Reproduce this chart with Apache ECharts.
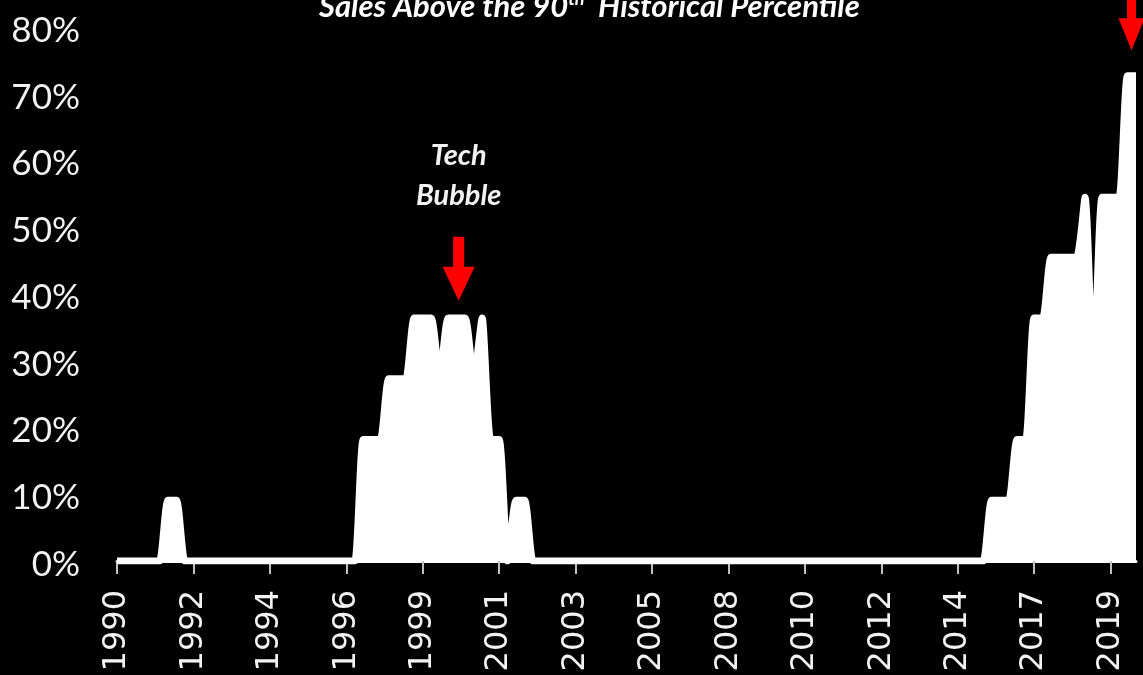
<!DOCTYPE html>
<html>
<head>
<meta charset="utf-8">
<script src="https://cdn.jsdelivr.net/npm/echarts@6/dist/echarts.min.js"></script>
<style>
  html, body { margin: 0; padding: 0; background: #000; }
  #chart { width: 1143px; height: 675px; }
</style>
</head>
<body>
<div id="chart"></div>
<script>
// Quarterly share of sectors (%) with sales above their 90th historical percentile
const START_YEAR = 1990;
const shareAbove90th = [
  0, 0, 0, 0,             // 1990
  0, 0, 9.1, 9.1,         // 1991
  0, 0, 0, 0,             // 1992
  0, 0, 0, 0,             // 1993
  0, 0, 0, 0,             // 1994
  0, 0, 0, 0,             // 1995
  0, 0, 0, 0,             // 1996
  0, 18.2, 18.2, 18.2,    // 1997
  27.3, 27.3, 27.3, 36.4, // 1998
  36.4, 36.4, 27.3, 36.4, // 1999
  36.4, 36.4, 27.3, 36.4, // 2000
  18.2, 18.2, 0, 9.1,     // 2001
  9.1, 0, 0, 0,           // 2002
  0, 0, 0, 0,             // 2003
  0, 0, 0, 0,             // 2004
  0, 0, 0, 0,             // 2005
  0, 0, 0, 0,             // 2006
  0, 0, 0, 0,             // 2007
  0, 0, 0, 0,             // 2008
  0, 0, 0, 0,             // 2009
  0, 0, 0, 0,             // 2010
  0, 0, 0, 0,             // 2011
  0, 0, 0, 0,             // 2012
  0, 0, 0, 0,             // 2013
  0, 0, 0, 0,             // 2014
  0, 0, 0, 9.1,           // 2015
  9.1, 9.1, 18.2, 18.2,   // 2016
  36.4, 36.4, 45.5, 45.5, // 2017
  45.5, 45.5, 54.5, 27.3, // 2018
  54.5, 54.5, 54.5, 72.7, // 2019
  72.7                    // 2020
];

// Category labels, one per quarter
const quarters = [];
for (let i = 0; i < shareAbove90th.length; i++) {
  quarters.push((START_YEAR + Math.floor(i / 4)) + ' Q' + (i % 4 + 1));
}

// Value axis range
const Y_MIN = 0;
const Y_MAX = 80;
const Y_STEP = 10;

// Annotations: [category, value] where each arrow tip points
const techArrowAt = ['2000 Q1', 39];
const techLabelAt = ['2000 Q1', 57.8];
const latestArrowAt = ['2019 Q4', 76.5];

const arrowPath = 'path://M10.5,0 L21.5,0 L21.5,30 L32,30 L16,64 L0,30 L10.5,30 Z';
const arrowPathTop = 'path://M8.5,0 L17.5,0 L17.5,30 L26,30 L13,62 L0,30 L8.5,30 Z';

const chart = echarts.init(document.getElementById('chart'), null, { renderer: 'canvas' });

chart.setOption({
  backgroundColor: '#000000',
  animation: false,
  title: {
    text: '{b|Sales Above the 90}{s|th}{b|  Historical Percentile}',
    left: 314,
    top: -15,
    textStyle: {
      rich: {
        b: { color: '#ffffff', fontFamily: 'Lato', fontSize: 31, fontWeight: 'bold', fontStyle: 'italic' },
        s: { color: '#ffffff', fontFamily: 'Lato', fontSize: 18, fontWeight: 'bold', fontStyle: 'italic', verticalAlign: 'top', padding: [0, 0, 16, 0] }
      }
    }
  },
  grid: { left: 117, right: 7, top: 27, bottom: 114, containLabel: false },
  xAxis: {
    type: 'category',
    data: quarters,
    boundaryGap: false,
    offset: 4,
    axisLine: { show: true, lineStyle: { color: '#ffffff', width: 3 } },
    axisTick: { show: true, interval: 8, length: 13, lineStyle: { color: '#bfbfbf', width: 2 } },
    axisLabel: {
      interval: 8,
      rotate: 90,
      margin: 25,
      color: '#f2f2f2',
      fontFamily: 'DejaVu Sans',
      fontSize: 32,
      formatter: v => v.slice(0, 4)
    },
    splitLine: { show: false }
  },
  yAxis: {
    type: 'value',
    min: Y_MIN,
    max: Y_MAX,
    interval: Y_STEP,
    axisLine: { show: false },
    axisTick: { show: false },
    splitLine: { show: false },
    axisLabel: {
      margin: 37,
      formatter: '{v|{value}%}',
      rich: {
        v: { color: '#f2f2f2', fontFamily: 'Lato', fontSize: 35, padding: [7, 0, 0, 0] }
      }
    }
  },
  series: [{
    type: 'line',
    data: shareAbove90th,
    smooth: 0.2,
    symbol: 'none',
    clip: true,
    lineStyle: { color: '#ffffff', width: 7, join: 'round', cap: 'butt' },
    areaStyle: { color: '#ffffff', opacity: 1 },
    markPoint: {
      silent: true,
      data: [
        {
          coord: techArrowAt,
          symbol: arrowPath,
          symbolSize: [32, 64],
          symbolKeepAspect: false,
          symbolOffset: [2, '-50%'],
          itemStyle: { color: '#ff0000' },
          label: { show: false }
        },
        {
          coord: latestArrowAt,
          symbol: arrowPathTop,
          symbolSize: [26, 62],
          symbolKeepAspect: false,
          symbolOffset: [4, '-50%'],
          itemStyle: { color: '#ff0000' },
          label: { show: false }
        },
        {
          coord: techLabelAt,
          symbol: 'circle',
          symbolSize: 0,
          symbolOffset: [2, 0],
          label: {
            show: true,
            position: 'inside',
            formatter: 'Tech\nBubble',
            color: '#f2f2f2',
            fontFamily: 'Lato',
            fontSize: 29,
            fontWeight: 'bold',
            fontStyle: 'italic',
            lineHeight: 40,
            align: 'center'
          }
        }
      ]
    }
  }]
});
</script>
</body>
</html>
